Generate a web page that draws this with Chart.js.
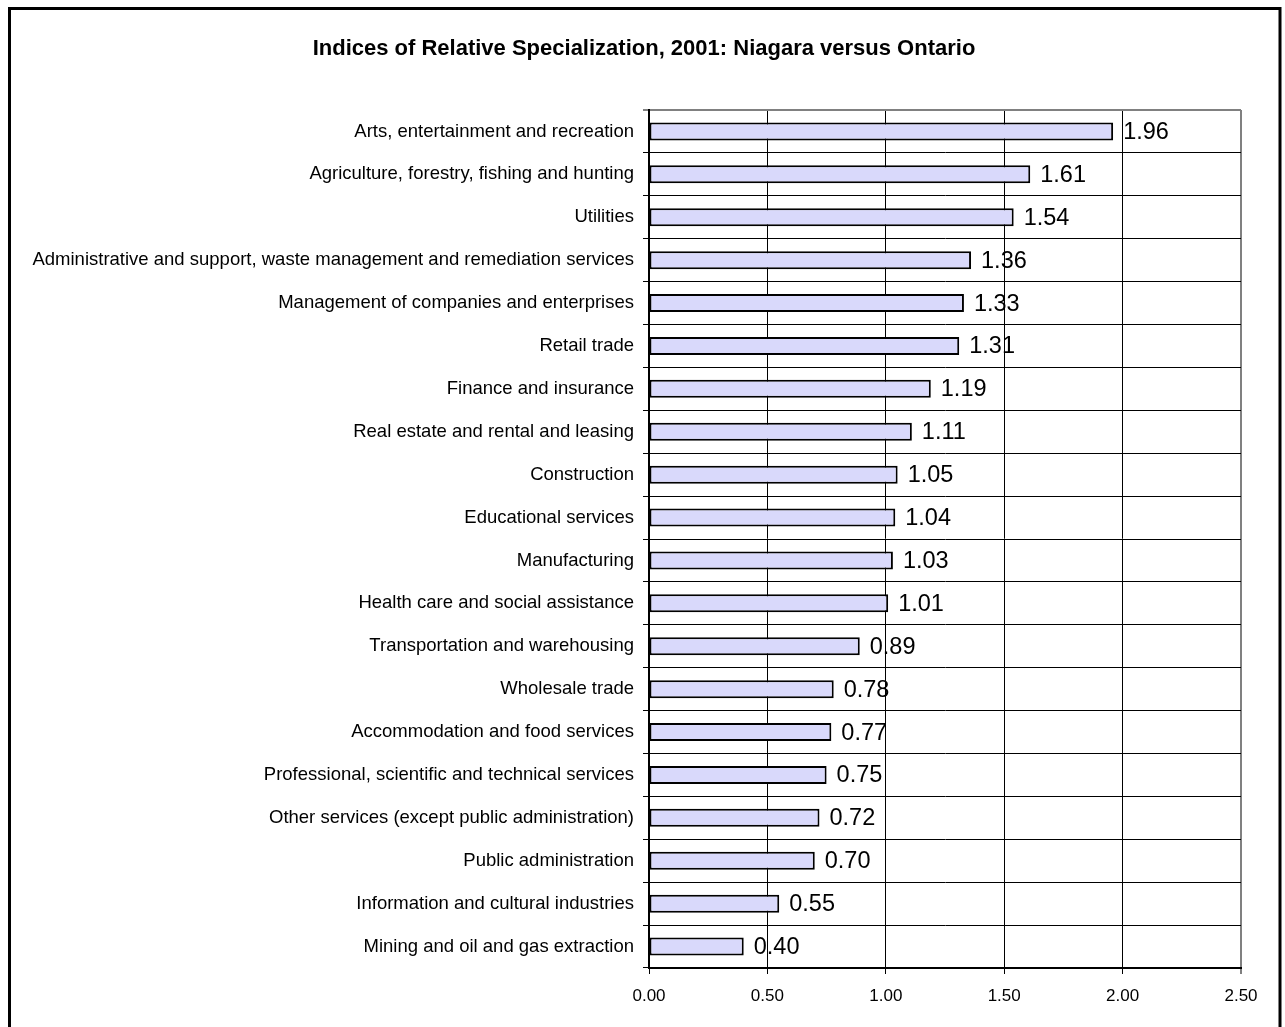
<!DOCTYPE html>
<html>
<head>
<meta charset="utf-8">
<title>Indices of Relative Specialization, 2001: Niagara versus Ontario</title>
<script src="https://cdn.jsdelivr.net/npm/chart.js@4"></script>
<style>
  html, body { margin: 0; padding: 0; background: #fff; }
  #wrap { position: relative; width: 1285px; height: 1027px; }
</style>
</head>
<body>
<div id="wrap"><canvas id="chart" width="1285" height="1027"></canvas></div>
<script>
const chartTitle = 'Indices of Relative Specialization, 2001: Niagara versus Ontario';

const industries = [
  'Arts, entertainment and recreation',
  'Agriculture, forestry, fishing and hunting',
  'Utilities',
  'Administrative and support, waste management and remediation services',
  'Management of companies and enterprises',
  'Retail trade',
  'Finance and insurance',
  'Real estate and rental and leasing',
  'Construction',
  'Educational services',
  'Manufacturing',
  'Health care and social assistance',
  'Transportation and warehousing',
  'Wholesale trade',
  'Accommodation and food services',
  'Professional, scientific and technical services',
  'Other services (except public administration)',
  'Public administration',
  'Information and cultural industries',
  'Mining and oil and gas extraction'
];

const indexValues = [1.96, 1.61, 1.54, 1.36, 1.33, 1.31, 1.19, 1.11, 1.05, 1.04,
                     1.03, 1.01, 0.89, 0.78, 0.77, 0.75, 0.72, 0.70, 0.55, 0.40];

const xTicks = [0, 0.5, 1.0, 1.5, 2.0, 2.5];

const FONT = "'Liberation Sans', Arial, sans-serif";

// Frame around the whole figure, and the heading centred across it
const framePlugin = {
  id: 'frame',
  afterDraw(chart) {
    const ctx = chart.ctx;
    ctx.save();
    ctx.strokeStyle = '#000';
    ctx.lineWidth = 3;
    ctx.strokeRect(9.5, 8.5, 1270.5, 1100);
    ctx.font = 'bold 22px ' + FONT;
    ctx.fillStyle = '#000';
    ctx.textAlign = 'center';
    ctx.textBaseline = 'middle';
    ctx.fillText(chartTitle, 644, 49);
    ctx.restore();
  }
};

// Value printed just past the end of each bar
const valueLabels = {
  id: 'valueLabels',
  afterDatasetsDraw(chart) {
    const ctx = chart.ctx;
    const meta = chart.getDatasetMeta(0);
    const vals = chart.data.datasets[0].data;
    ctx.save();
    ctx.font = '23.5px ' + FONT;
    ctx.fillStyle = '#000';
    ctx.textAlign = 'left';
    ctx.textBaseline = 'middle';
    meta.data.forEach((bar, i) => {
      ctx.fillText(vals[i].toFixed(2), bar.x + 10, bar.y + 1);
    });
    ctx.restore();
  }
};

new Chart(document.getElementById('chart'), {
  type: 'bar',
  data: {
    labels: industries,
    datasets: [{
      data: indexValues,
      backgroundColor: '#d9d9fb',
      borderColor: '#000',
      borderWidth: 2,
      borderSkipped: false,
      categoryPercentage: 1.0,
      barPercentage: 0.42
    }]
  },
  options: {
    indexAxis: 'y',
    responsive: false,
    animation: false,
    layout: { padding: { left: 0, right: 44, top: 110, bottom: 0 } },
    plugins: {
      legend: { display: false },
      tooltip: { enabled: false },
      title: { display: false }
    },
    scales: {
      x: {
        type: 'linear',
        min: 0,
        max: 2.5,
        afterBuildTicks(scale) { scale.ticks = xTicks.map(v => ({ value: v })); },
        afterFit(scale) { scale.height = 59; },
        ticks: {
          color: '#000',
          font: { family: FONT, size: 17 },
          padding: 12,
          maxRotation: 0,
          callback: v => Number(v).toFixed(2)
        },
        grid: {
          color: ctx => (ctx.index === xTicks.length - 1 ? '#808080' : '#000'),
          lineWidth: ctx => (ctx.index === xTicks.length - 1 ? 2 : 1),
          tickLength: 6,
          drawTicks: true
        },
        border: { display: true, color: '#000', width: 2 }
      },
      y: {
        afterFit(scale) { scale.width = 649; },
        ticks: {
          color: '#000',
          font: { family: FONT, size: 18.5 },
          padding: 9,
          autoSkip: false
        },
        grid: {
          offset: true,
          color: ctx => (ctx.index === 0 ? '#808080' : '#000'),
          lineWidth: ctx => (ctx.index === 0 ? 2 : 1),
          tickLength: 6,
          drawTicks: true
        },
        border: { display: true, color: '#000', width: 2 }
      }
    }
  },
  plugins: [framePlugin, valueLabels]
});
</script>
</body>
</html>
